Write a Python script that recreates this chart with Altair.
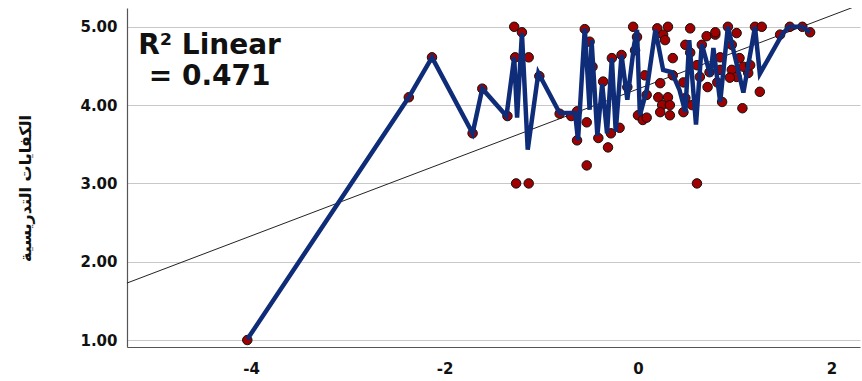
import altair as alt
import pandas as pd

# scatter points (x: predictor, y: الكفايات التدريسية)
pt_x = [-4.04, -2.37, -2.13, -1.71, -1.61, -1.35, -1.28, -1.20, -1.27, -1.13, -1.26, -1.13, -1.02,
        -0.81, -0.69, -0.63, -0.55, -0.50, -0.47, -0.63, -0.53, -0.53, -0.41, -0.36, -0.27, -0.17,
        -0.28, -0.19, -0.31, -0.05, -0.01, -0.03, 0.00, 0.05, -0.11,
        0.20, 0.31, 0.54, 0.93, 0.26, 0.28, 0.71, 0.80, 1.02, 0.49, 0.66, 0.97, 0.36, 0.54, 0.61,
        0.74, 0.85, 0.97, 1.02, 0.07, 0.23, 0.36, 0.47, 0.64, 0.72, 0.82, 0.95, 0.09, 0.21, 0.31,
        0.25, 0.33, 0.23, 0.33, 0.49, 0.47, 0.56, 0.87, 0.09, 0.61,
        1.21, 1.28, 1.57, 1.70, 1.78, 1.47, 0.80, 0.85, 1.05, 1.08, 1.26, 1.14, 1.09, 1.16]
pt_y = [1.00, 4.10, 4.61, 3.64, 4.21, 3.86, 5.00, 4.93, 4.61, 4.61, 3.00, 3.00, 4.37,
        3.89, 3.86, 3.92, 4.97, 4.81, 4.49, 3.55, 3.78, 3.23, 3.58, 4.30, 4.60, 4.64,
        3.64, 3.71, 3.46, 5.00, 4.87, 4.70, 3.87, 3.81, 4.23,
        4.98, 5.00, 4.98, 5.00, 4.90, 4.83, 4.88, 4.90, 4.92, 4.77, 4.77, 4.77, 4.60, 4.67, 4.51,
        4.42, 4.45, 4.45, 4.36, 4.38, 4.28, 4.38, 4.29, 4.36, 4.23, 4.29, 4.35, 4.13, 4.10, 4.10,
        4.00, 4.00, 3.91, 3.87, 4.09, 3.91, 4.00, 4.04, 3.84, 3.00,
        5.00, 5.00, 5.00, 5.00, 4.93, 4.90, 4.93, 4.61, 4.60, 3.96, 4.17, 4.41, 4.49, 4.51]

# interpolation line vertices
ln_x = [-4.04, -2.37, -2.13, -1.71, -1.61, -1.36, -1.28, -1.25, -1.20, -1.14, -1.03, -0.81,
        -0.65, -0.62, -0.55, -0.50, -0.48, -0.42, -0.37, -0.32, -0.27, -0.23, -0.17, -0.11,
        -0.04, -0.01, 0.02, 0.09, 0.18, 0.26, 0.35, 0.43, 0.49, 0.53, 0.60, 0.66, 0.75, 0.78,
        0.85, 0.93, 1.09, 1.21, 1.26, 1.49, 1.56, 1.70, 1.78]
ln_y = [1.01, 4.10, 4.61, 3.64, 4.21, 3.86, 4.61, 3.84, 4.92, 3.43, 4.41, 3.90,
        3.90, 3.55, 4.98, 3.94, 4.83, 3.61, 4.27, 3.64, 4.60, 3.66, 4.64, 4.07,
        4.77, 4.96, 3.87, 4.19, 4.96, 4.45, 4.42, 4.19, 3.91, 4.83, 3.75, 4.78, 4.37, 4.73,
        4.04, 5.00, 4.16, 5.00, 4.40, 4.90, 5.00, 5.00, 4.93]

# linear fit (R² = 0.471)
fit_x = [-5.284, 2.296]
fit_intercept = 4.206
fit_slope = 0.469
fit_y = [fit_intercept + fit_slope * v for v in fit_x]

ann_text = ["R² Linear", "= 0.471"]
ann_x = [-4.43, -4.43]
ann_y = [4.75, 4.36]

x_ticks = [-4, -2, 0, 2]
y_ticks = [1, 2, 3, 4, 5]
y_title = "الكفايات التدريسية"

pts = pd.DataFrame({"x": pt_x, "y": pt_y})
lns = pd.DataFrame({"x": ln_x, "y": ln_y, "i": list(range(len(ln_x)))})
fit = pd.DataFrame({"x": fit_x, "y": fit_y})
ann = pd.DataFrame({"x": ann_x, "y": ann_y, "t": ann_text})

xs = alt.Scale(domain=[-5.284, 2.296], nice=False, zero=False)
ys = alt.Scale(domain=[0.911, 5.24], nice=False, zero=False)

X = alt.X("x:Q", scale=xs, axis=alt.Axis(values=x_ticks, labelExpr="'' + datum.value",
                                          grid=False, title=None,
                                          tickSize=0, labelPadding=14, labelFontSize=15,
                                          labelFont="DejaVu Sans", labelFontWeight="bold",
                                          labelColor="#111111", domainColor="#555555",
                                          domainWidth=1.2))
Y = alt.Y("y:Q", scale=ys, axis=alt.Axis(values=y_ticks, format=".2f", grid=True,
                                          gridColor="#c8c8c8", gridWidth=1.2,
                                          title=y_title, titleFont="DejaVu Sans",
                                          titleFontSize=16, titleFontWeight="bold",
                                          titleColor="#111111", titleX=-102, titleY=180,
                                          titleAngle=-90, titleAlign="center",
                                          titleBaseline="middle",
                                          tickSize=0, labelPadding=10, labelFontSize=15,
                                          labelFont="DejaVu Sans", labelFontWeight="bold",
                                          labelColor="#111111", domainColor="#555555",
                                          domainWidth=1.2))

fit_layer = alt.Chart(fit).mark_line(color="#222222", strokeWidth=1, clip=True).encode(x=X, y=Y)
pt_layer = alt.Chart(pts).mark_point(filled=True, fill="#a00000", stroke="#111111",
                                     strokeWidth=1, size=90, opacity=1, shape="circle").encode(x=X, y=Y)
ln_layer = alt.Chart(lns).mark_line(color="#0f2c78", strokeWidth=4.5, clip=True).encode(
    x=X, y=Y, order="i:Q")
ann_layer = alt.Chart(ann).mark_text(font="DejaVu Sans", fontSize=28, fontWeight="bold",
                                     color="#111111", align="center", baseline="middle").encode(
    x=X, y=Y, text="t:N")

chart = alt.layer(fit_layer, pt_layer, ln_layer, ann_layer).properties(
    width=733, height=339,
    autosize=alt.AutoSizeParams(type="none"),
    padding={"left": 127, "top": 8, "right": 2, "bottom": 34},
    background="white",
).configure_view(stroke=None)

chart.save("out.html", embed_options={"renderer": "svg", "actions": False})
